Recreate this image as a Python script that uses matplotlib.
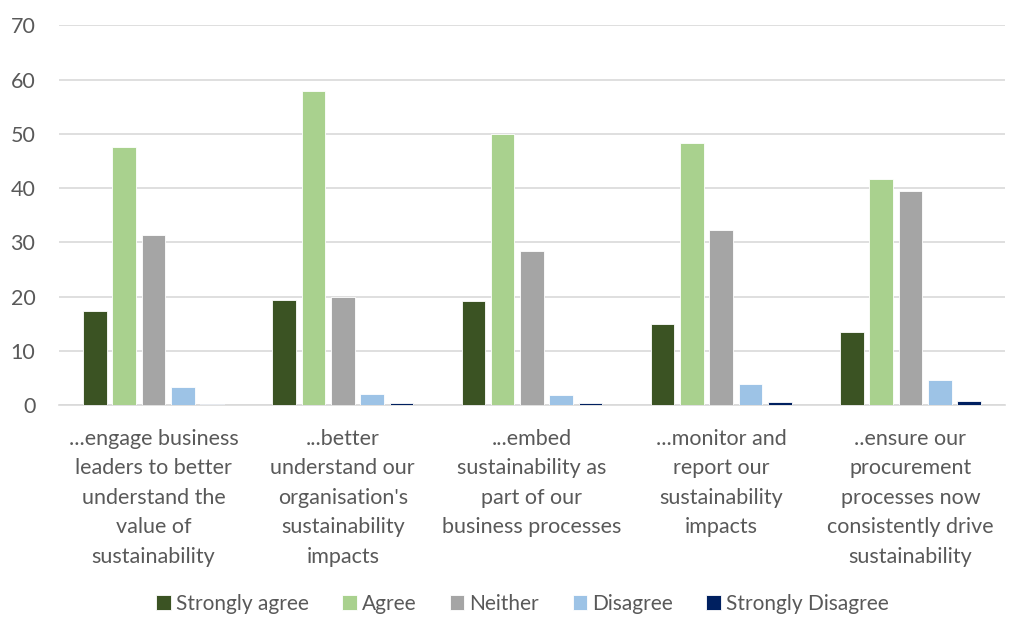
import numpy as np
import matplotlib.pyplot as plt

plt.rcParams['font.family'] = ['Lato', 'DejaVu Sans']

categories = [
    "...engage business\nleaders to better\nunderstand the\nvalue of\nsustainability",
    "...better\nunderstand our\norganisation's\nsustainability\nimpacts",
    "...embed\nsustainability as\npart of our\nbusiness processes",
    "...monitor and\nreport our\nsustainability\nimpacts",
    "..ensure our\nprocurement\nprocesses now\nconsistently drive\nsustainability",
]
strongly_agree = [17.4, 19.3, 19.2, 14.9, 13.4]
agree = [47.5, 58.0, 50.0, 48.3, 41.6]
neither = [31.3, 19.9, 28.4, 32.3, 39.5]
disagree = [3.3, 2.1, 1.9, 3.9, 4.7]
strongly_disagree = [0.2, 0.4, 0.4, 0.6, 0.7]

series = [
    ("Strongly agree", strongly_agree, "#3B5323"),
    ("Agree", agree, "#A9D18E"),
    ("Neither", neither, "#A5A5A5"),
    ("Disagree", disagree, "#9DC3E6"),
    ("Strongly Disagree", strongly_disagree, "#002060"),
]

fig = plt.figure(figsize=(10.09, 6.17), dpi=100)
ax = fig.add_axes([0.0585, 0.3436, 0.9375, 0.6151])

x = np.arange(len(categories))
step = 0.155
width = 0.125
for i, (name, vals, col) in enumerate(series):
    ax.bar(x + (i - 2) * step, vals, width, color=col, label=name,
           edgecolor="white", linewidth=0.6, zorder=3)

ax.set_ylim(0, 70)
ax.set_xlim(-0.5, len(categories) - 0.5)
ax.set_yticks(range(0, 71, 10))
ax.yaxis.grid(True, color="#D9D9D9", linewidth=1.2, zorder=0)
for s in ["top", "right", "left"]:
    ax.spines[s].set_visible(False)
ax.spines["bottom"].set_color("#D9D9D9")
ax.spines["bottom"].set_linewidth(1.2)
ax.tick_params(axis="both", length=0, colors="#595959", labelsize=15.5)
ax.tick_params(axis="y", pad=17)
ax.tick_params(axis="x", pad=17)
ax.set_xticks(x)
ax.set_xticklabels(categories, linespacing=1.6, color="#595959")

ax.legend(loc="lower center", bbox_to_anchor=(0.49, -0.588), ncol=5,
          frameon=False, fontsize=15, labelcolor="#595959",
          handlelength=0.7, handleheight=0.7, handletextpad=0.25,
          columnspacing=1.6, borderpad=0.2)

fig.savefig("out.png", dpi=100)
